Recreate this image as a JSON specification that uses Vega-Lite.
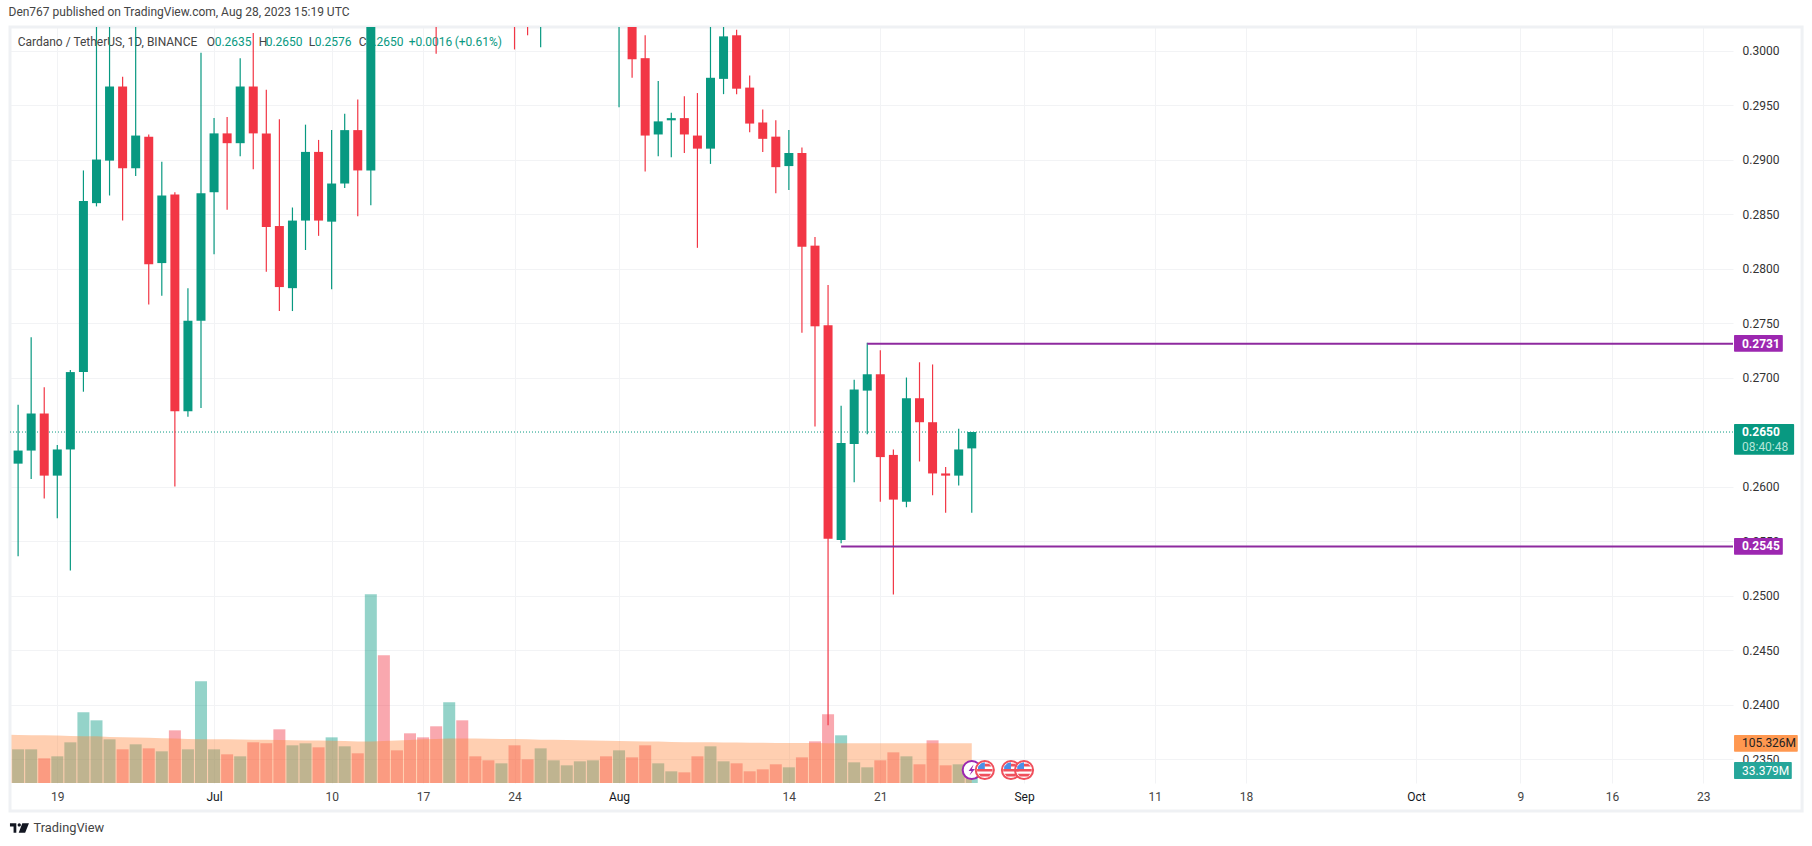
{
  "$schema": "https://vega.github.io/schema/vega-lite/v6.json",
  "autosize": {"type": "none"},
  "padding": {"left": 10, "top": 27, "right": 79, "bottom": 63},
  "width": 1723,
  "height": 756,
  "background": "#ffffff",
  "title": {"text": "Den767 published on TradingView.com, Aug 28, 2023 15:19 UTC", "anchor": "start", "offset": 7, "font": "Roboto", "fontSize": 12, "fontWeight": "normal", "color": "#444444"},
  "config": {"view": {"stroke": null}},
  "datasets": {
    "candles": [
      {"date": "2023-06-15", "ma": 128, "note": "anchor"},
      {"date": "2023-06-16", "dir": "up", "open": 0.2621, "high": 0.2675, "low": 0.2536, "close": 0.2633, "volume": 89.4, "ma": 127.5},
      {"date": "2023-06-17", "dir": "up", "open": 0.2633, "high": 0.2737, "low": 0.2607, "close": 0.2667, "volume": 89.4, "ma": 127},
      {"date": "2023-06-18", "dir": "down", "open": 0.2667, "high": 0.2691, "low": 0.2589, "close": 0.2610, "volume": 65.5, "ma": 126.5},
      {"date": "2023-06-19", "dir": "up", "open": 0.2610, "high": 0.2638, "low": 0.2571, "close": 0.2634, "volume": 70.8, "ma": 126},
      {"date": "2023-06-20", "dir": "up", "open": 0.2634, "high": 0.2707, "low": 0.2523, "close": 0.2705, "volume": 108, "ma": 125},
      {"date": "2023-06-21", "dir": "up", "open": 0.2705, "high": 0.2890, "low": 0.2687, "close": 0.2862, "volume": 187.6, "ma": 124},
      {"date": "2023-06-22", "dir": "up", "open": 0.2860, "high": 0.3040, "low": 0.2857, "close": 0.2900, "volume": 166.4, "ma": 124},
      {"date": "2023-06-23", "dir": "up", "open": 0.2899, "high": 0.3060, "low": 0.2867, "close": 0.2967, "volume": 115.9, "ma": 122},
      {"date": "2023-06-24", "dir": "down", "open": 0.2967, "high": 0.2976, "low": 0.2844, "close": 0.2892, "volume": 89.4, "ma": 121.5},
      {"date": "2023-06-25", "dir": "up", "open": 0.2892, "high": 0.3030, "low": 0.2885, "close": 0.2922, "volume": 102.7, "ma": 121},
      {"date": "2023-06-26", "dir": "down", "open": 0.2921, "high": 0.2923, "low": 0.2767, "close": 0.2804, "volume": 92, "ma": 120},
      {"date": "2023-06-27", "dir": "up", "open": 0.2805, "high": 0.2898, "low": 0.2775, "close": 0.2867, "volume": 84.1, "ma": 119},
      {"date": "2023-06-28", "dir": "down", "open": 0.2868, "high": 0.2870, "low": 0.2600, "close": 0.2669, "volume": 139.8, "ma": 118},
      {"date": "2023-06-29", "dir": "up", "open": 0.2669, "high": 0.2782, "low": 0.2664, "close": 0.2752, "volume": 89.4, "ma": 117},
      {"date": "2023-06-30", "dir": "up", "open": 0.2752, "high": 0.2998, "low": 0.2672, "close": 0.2869, "volume": 270, "ma": 116},
      {"date": "2023-07-01", "dir": "up", "open": 0.2870, "high": 0.2938, "low": 0.2813, "close": 0.2924, "volume": 89.4, "ma": 116},
      {"date": "2023-07-02", "dir": "down", "open": 0.2924, "high": 0.2939, "low": 0.2854, "close": 0.2915, "volume": 76.1, "ma": 116},
      {"date": "2023-07-03", "dir": "up", "open": 0.2915, "high": 0.2993, "low": 0.2903, "close": 0.2967, "volume": 70.8, "ma": 115.5},
      {"date": "2023-07-04", "dir": "down", "open": 0.2967, "high": 0.3016, "low": 0.2891, "close": 0.2924, "volume": 108, "ma": 115},
      {"date": "2023-07-05", "dir": "down", "open": 0.2924, "high": 0.2964, "low": 0.2797, "close": 0.2838, "volume": 105.3, "ma": 115},
      {"date": "2023-07-06", "dir": "down", "open": 0.2839, "high": 0.2937, "low": 0.2761, "close": 0.2783, "volume": 142.5, "ma": 114},
      {"date": "2023-07-07", "dir": "up", "open": 0.2782, "high": 0.2856, "low": 0.2761, "close": 0.2844, "volume": 100, "ma": 113.5},
      {"date": "2023-07-08", "dir": "up", "open": 0.2844, "high": 0.2932, "low": 0.2817, "close": 0.2907, "volume": 105.3, "ma": 113},
      {"date": "2023-07-09", "dir": "down", "open": 0.2907, "high": 0.2918, "low": 0.2830, "close": 0.2844, "volume": 94.7, "ma": 112.5},
      {"date": "2023-07-10", "dir": "up", "open": 0.2843, "high": 0.2927, "low": 0.2781, "close": 0.2878, "volume": 121.2, "ma": 112},
      {"date": "2023-07-11", "dir": "up", "open": 0.2878, "high": 0.2942, "low": 0.2874, "close": 0.2927, "volume": 97.4, "ma": 111.5},
      {"date": "2023-07-12", "dir": "down", "open": 0.2927, "high": 0.2955, "low": 0.2848, "close": 0.2890, "volume": 78.8, "ma": 110.5},
      {"date": "2023-07-13", "dir": "up", "open": 0.2890, "high": 0.3400, "low": 0.2858, "close": 0.3205, "volume": 500.9, "ma": 110.5},
      {"date": "2023-07-14", "dir": "down", "open": 0.3205, "high": 0.3420, "low": 0.3060, "close": 0.3110, "volume": 339, "ma": 111.5},
      {"date": "2023-07-15", "dir": "down", "open": 0.3110, "high": 0.3130, "low": 0.3040, "close": 0.3080, "volume": 86.7, "ma": 113},
      {"date": "2023-07-16", "dir": "down", "open": 0.3080, "high": 0.3110, "low": 0.3040, "close": 0.3060, "volume": 131.9, "ma": 114},
      {"date": "2023-07-17", "dir": "down", "open": 0.3060, "high": 0.3090, "low": 0.3030, "close": 0.3050, "volume": 121.2, "ma": 116},
      {"date": "2023-07-18", "dir": "down", "open": 0.3150, "high": 0.3180, "low": 0.2997, "close": 0.3060, "volume": 150.5, "ma": 117},
      {"date": "2023-07-19", "dir": "up", "open": 0.3060, "high": 0.3290, "low": 0.3050, "close": 0.3120, "volume": 214.2, "ma": 118},
      {"date": "2023-07-20", "dir": "down", "open": 0.3120, "high": 0.3220, "low": 0.3070, "close": 0.3115, "volume": 166.4, "ma": 118},
      {"date": "2023-07-21", "dir": "down", "open": 0.3130, "high": 0.3170, "low": 0.3090, "close": 0.3110, "volume": 70.8, "ma": 118},
      {"date": "2023-07-22", "dir": "down", "open": 0.3110, "high": 0.3130, "low": 0.3050, "close": 0.3080, "volume": 60.2, "ma": 117.5},
      {"date": "2023-07-23", "dir": "up", "open": 0.3075, "high": 0.3120, "low": 0.3050, "close": 0.3100, "volume": 52.2, "ma": 117},
      {"date": "2023-07-24", "dir": "down", "open": 0.3100, "high": 0.3110, "low": 0.3001, "close": 0.3040, "volume": 100, "ma": 117},
      {"date": "2023-07-25", "dir": "down", "open": 0.3045, "high": 0.3070, "low": 0.3014, "close": 0.3035, "volume": 62.8, "ma": 116},
      {"date": "2023-07-26", "dir": "up", "open": 0.3035, "high": 0.3100, "low": 0.3003, "close": 0.3090, "volume": 92, "ma": 115},
      {"date": "2023-07-27", "dir": "up", "open": 0.3090, "high": 0.3130, "low": 0.3040, "close": 0.3100, "volume": 60.2, "ma": 114.5},
      {"date": "2023-07-28", "dir": "up", "open": 0.3100, "high": 0.3120, "low": 0.3060, "close": 0.3110, "volume": 46.9, "ma": 114},
      {"date": "2023-07-29", "dir": "up", "open": 0.3110, "high": 0.3130, "low": 0.3080, "close": 0.3120, "volume": 57.5, "ma": 113.5},
      {"date": "2023-07-30", "dir": "up", "open": 0.3120, "high": 0.3170, "low": 0.3090, "close": 0.3160, "volume": 60.2, "ma": 113},
      {"date": "2023-07-31", "dir": "down", "open": 0.3160, "high": 0.3180, "low": 0.3080, "close": 0.3120, "volume": 70.8, "ma": 112},
      {"date": "2023-08-01", "dir": "up", "open": 0.3100, "high": 0.3200, "low": 0.2948, "close": 0.3150, "volume": 86.7, "ma": 111.5},
      {"date": "2023-08-02", "dir": "down", "open": 0.3150, "high": 0.3170, "low": 0.2975, "close": 0.2992, "volume": 68.1, "ma": 111},
      {"date": "2023-08-03", "dir": "down", "open": 0.2993, "high": 0.3014, "low": 0.2889, "close": 0.2922, "volume": 100, "ma": 110.5},
      {"date": "2023-08-04", "dir": "up", "open": 0.2923, "high": 0.2972, "low": 0.2903, "close": 0.2935, "volume": 52.2, "ma": 110},
      {"date": "2023-08-05", "dir": "up", "open": 0.2936, "high": 0.2943, "low": 0.2902, "close": 0.2938, "volume": 31, "ma": 109},
      {"date": "2023-08-06", "dir": "down", "open": 0.2938, "high": 0.2958, "low": 0.2906, "close": 0.2923, "volume": 28.3, "ma": 108},
      {"date": "2023-08-07", "dir": "down", "open": 0.2922, "high": 0.2961, "low": 0.2819, "close": 0.2910, "volume": 70.8, "ma": 108},
      {"date": "2023-08-08", "dir": "up", "open": 0.2910, "high": 0.3040, "low": 0.2896, "close": 0.2975, "volume": 97.4, "ma": 108},
      {"date": "2023-08-09", "dir": "up", "open": 0.2974, "high": 0.3060, "low": 0.2960, "close": 0.3013, "volume": 57.5, "ma": 107.5},
      {"date": "2023-08-10", "dir": "down", "open": 0.3014, "high": 0.3019, "low": 0.2960, "close": 0.2965, "volume": 52.2, "ma": 107.5},
      {"date": "2023-08-11", "dir": "down", "open": 0.2966, "high": 0.2977, "low": 0.2925, "close": 0.2933, "volume": 31, "ma": 107},
      {"date": "2023-08-12", "dir": "down", "open": 0.2934, "high": 0.2946, "low": 0.2907, "close": 0.2919, "volume": 36.3, "ma": 107},
      {"date": "2023-08-13", "dir": "down", "open": 0.2921, "high": 0.2936, "low": 0.2869, "close": 0.2893, "volume": 49.6, "ma": 106.5},
      {"date": "2023-08-14", "dir": "up", "open": 0.2894, "high": 0.2927, "low": 0.2872, "close": 0.2906, "volume": 41.6, "ma": 106.5},
      {"date": "2023-08-15", "dir": "down", "open": 0.2906, "high": 0.2911, "low": 0.2741, "close": 0.2820, "volume": 68.1, "ma": 106},
      {"date": "2023-08-16", "dir": "down", "open": 0.2821, "high": 0.2829, "low": 0.2655, "close": 0.2747, "volume": 110.6, "ma": 106},
      {"date": "2023-08-17", "dir": "down", "open": 0.2748, "high": 0.2785, "low": 0.2381, "close": 0.2552, "volume": 182.3, "ma": 105.5},
      {"date": "2023-08-18", "dir": "up", "open": 0.2551, "high": 0.2674, "low": 0.2548, "close": 0.2640, "volume": 126.6, "ma": 105.5},
      {"date": "2023-08-19", "dir": "up", "open": 0.2639, "high": 0.2698, "low": 0.2604, "close": 0.2689, "volume": 54.9, "ma": 105.5},
      {"date": "2023-08-20", "dir": "up", "open": 0.2688, "high": 0.2732, "low": 0.2648, "close": 0.2703, "volume": 41.6, "ma": 105.4},
      {"date": "2023-08-21", "dir": "down", "open": 0.2703, "high": 0.2725, "low": 0.2586, "close": 0.2627, "volume": 60.2, "ma": 105.4},
      {"date": "2023-08-22", "dir": "down", "open": 0.2629, "high": 0.2634, "low": 0.2501, "close": 0.2588, "volume": 81.4, "ma": 105.4},
      {"date": "2023-08-23", "dir": "up", "open": 0.2586, "high": 0.2700, "low": 0.2581, "close": 0.2681, "volume": 70.8, "ma": 105.4},
      {"date": "2023-08-24", "dir": "down", "open": 0.2681, "high": 0.2714, "low": 0.2623, "close": 0.2659, "volume": 49.6, "ma": 105.4},
      {"date": "2023-08-25", "dir": "down", "open": 0.2659, "high": 0.2712, "low": 0.2592, "close": 0.2612, "volume": 113.3, "ma": 105.4},
      {"date": "2023-08-26", "dir": "down", "open": 0.2612, "high": 0.2618, "low": 0.2576, "close": 0.2610, "volume": 46.9, "ma": 105.3},
      {"date": "2023-08-27", "dir": "up", "open": 0.2610, "high": 0.2653, "low": 0.2601, "close": 0.2634, "volume": 49.6, "ma": 105.3},
      {"date": "2023-08-28", "dir": "up", "open": 0.2635, "high": 0.2650, "low": 0.2576, "close": 0.2650, "volume": 33.379, "ma": 105.326, "event": "earnings"},
      {"date": "2023-08-29", "event": "flag"},
      {"date": "2023-08-31", "event": "flag"},
      {"date": "2023-09-01", "event": "flag"}
    ]
  },
  "data": {"name": "candles"},
  "encoding": {
    "x": {
      "field": "date",
      "type": "temporal",
      "title": null,
      "scale": {"type": "utc", "nice": false, "padding": 0, "domain": [{"year": 2023, "month": "jun", "date": 15, "hours": 9, "minutes": 7, "utc": true}, {"year": 2023, "month": "oct", "date": 25, "hours": 6, "minutes": 30, "utc": true}]},
      "axis": {
        "values": [
          {"year": 2023, "month": "jun", "date": 19, "utc": true},
          {"year": 2023, "month": "jul", "date": 1, "utc": true},
          {"year": 2023, "month": "jul", "date": 10, "utc": true},
          {"year": 2023, "month": "jul", "date": 17, "utc": true},
          {"year": 2023, "month": "jul", "date": 24, "utc": true},
          {"year": 2023, "month": "aug", "date": 1, "utc": true},
          {"year": 2023, "month": "aug", "date": 14, "utc": true},
          {"year": 2023, "month": "aug", "date": 21, "utc": true},
          {"year": 2023, "month": "sep", "date": 1, "utc": true},
          {"year": 2023, "month": "sep", "date": 11, "utc": true},
          {"year": 2023, "month": "sep", "date": 18, "utc": true},
          {"year": 2023, "month": "oct", "date": 1, "utc": true},
          {"year": 2023, "month": "oct", "date": 9, "utc": true},
          {"year": 2023, "month": "oct", "date": 16, "utc": true},
          {"year": 2023, "month": "oct", "date": 23, "utc": true}
        ],
        "labelExpr": "utcdate(datum.value) == 1 ? utcFormat(datum.value, '%b') : utcFormat(datum.value, '%-d')",
        "labelColor": {"condition": {"test": "utcdate(datum.value) == 1", "value": "#131722"}, "value": "#444444"},
        "labelFont": "Roboto",
        "labelFontSize": 12,
        "labelPadding": 8,
        "labelFlush": false,
        "labelOverlap": false,
        "domain": false,
        "ticks": false,
        "grid": true,
        "gridColor": "#f2f3f5",
        "gridWidth": 1
      }
    }
  },
  "layer": [
    {
      "encoding": {"y": {"field": "volume", "type": "quantitative", "title": null, "axis": null, "stack": null, "scale": {"domain": [0, 2007], "nice": false}}},
      "layer": [
        {
          "transform": [{"filter": "datum.volume != null"}],
          "mark": {"type": "bar", "size": 12, "opacity": 0.43, "clip": true},
          "encoding": {"color": {"field": "dir", "type": "nominal", "legend": null, "scale": {"domain": ["up", "down"], "range": ["#089981", "#F23645"]}}}
        },
        {
          "transform": [{"filter": "datum.ma != null"}],
          "mark": {"type": "area", "color": "#FF873C", "opacity": 0.4, "clip": true, "interpolate": "linear"},
          "encoding": {"y": {"field": "ma", "type": "quantitative"}}
        }
      ]
    },
    {
      "layer": [
        {
          "transform": [{"filter": "datum.note == 'anchor'"}],
          "layer": [
            {
              "mark": {"type": "rect", "fill": "transparent", "stroke": "#eff1f4", "strokeWidth": 3},
              "encoding": {
                "x": {"datum": {"year": 2023, "month": "jun", "date": 15, "hours": 9, "minutes": 7, "utc": true}, "type": "temporal"},
                "x2": {"datum": {"year": 2023, "month": "oct", "date": 30, "hours": 13, "minutes": 26, "utc": true}},
                "y": {"datum": 0.30216},
                "y2": {"datum": 0.23023}
              }
            },
            {
              "mark": {"type": "rule", "color": "#089981", "strokeWidth": 1, "strokeDash": [1, 2]},
              "encoding": {"x": null, "y": {"datum": 0.265}}
            },
            {
              "encoding": {"x": {"datum": {"year": 2023, "month": "jun", "date": 15, "hours": 23, "minutes": 10, "utc": true}, "type": "temporal"}, "y": {"datum": 0.3008}},
              "layer": [
                {"mark": {"type": "text", "align": "left", "font": "Roboto", "fontSize": 12, "color": "#444444", "text": "Cardano / TetherUS, 1D, BINANCE"}},
                {"mark": {"type": "text", "align": "left", "dx": 189, "font": "Roboto", "fontSize": 12, "color": "#444444", "text": "O"}},
                {"mark": {"type": "text", "align": "left", "dx": 197, "font": "Roboto", "fontSize": 12, "color": "#089981", "text": "0.2635"}},
                {"mark": {"type": "text", "align": "left", "dx": 241, "font": "Roboto", "fontSize": 12, "color": "#444444", "text": "H"}},
                {"mark": {"type": "text", "align": "left", "dx": 248, "font": "Roboto", "fontSize": 12, "color": "#089981", "text": "0.2650"}},
                {"mark": {"type": "text", "align": "left", "dx": 291, "font": "Roboto", "fontSize": 12, "color": "#444444", "text": "L"}},
                {"mark": {"type": "text", "align": "left", "dx": 297, "font": "Roboto", "fontSize": 12, "color": "#089981", "text": "0.2576"}},
                {"mark": {"type": "text", "align": "left", "dx": 341, "font": "Roboto", "fontSize": 12, "color": "#444444", "text": "C"}},
                {"mark": {"type": "text", "align": "left", "dx": 349, "font": "Roboto", "fontSize": 12, "color": "#089981", "text": "0.2650"}},
                {"mark": {"type": "text", "align": "left", "dx": 391, "font": "Roboto", "fontSize": 12, "color": "#089981", "text": "+0.0016"}},
                {"mark": {"type": "text", "align": "left", "dx": 437, "font": "Roboto", "fontSize": 12, "color": "#089981", "text": "(+0.61%)"}}
              ]
            }
          ]
        },
        {
          "transform": [{"filter": "datum.volume != null"}],
          "mark": {"type": "rule", "strokeWidth": 1.2, "clip": true},
          "encoding": {
            "y": {
              "field": "low",
              "type": "quantitative",
              "title": null,
              "scale": {"domain": [0.2328, 0.30216], "zero": false, "nice": false},
              "axis": {
                "orient": "right",
                "values": [0.235, 0.24, 0.245, 0.25, 0.255, 0.26, 0.27, 0.275, 0.28, 0.285, 0.29, 0.295, 0.3],
                "format": ".4f",
                "labelFont": "Roboto",
                "labelFontSize": 12,
                "labelColor": "#333333",
                "labelPadding": 9,
                "labelOverlap": false,
                "labelFlush": false,
                "domain": false,
                "ticks": false,
                "grid": true,
                "gridColor": "#f2f3f5",
                "gridWidth": 1
              }
            },
            "y2": {"field": "high"},
            "color": {"field": "dir", "type": "nominal", "legend": null}
          }
        },
        {
          "transform": [{"filter": "datum.volume != null"}],
          "mark": {"type": "bar", "size": 9, "clip": true},
          "encoding": {
            "y": {"field": "open", "type": "quantitative"},
            "y2": {"field": "close"},
            "color": {"field": "dir", "type": "nominal", "legend": null}
          }
        },
        {
          "transform": [{"filter": "datum.note == 'anchor'"}],
          "layer": [
            {
              "mark": {"type": "rule", "color": "#8E2A9F", "strokeWidth": 2},
              "encoding": {"x": {"datum": {"year": 2023, "month": "aug", "date": 20, "utc": true}, "type": "temporal"}, "x2": {"datum": {"year": 2023, "month": "oct", "date": 25, "hours": 6, "minutes": 30, "utc": true}}, "y": {"datum": 0.2731}}
            },
            {
              "mark": {"type": "rule", "color": "#8E2A9F", "strokeWidth": 2},
              "encoding": {"x": {"datum": {"year": 2023, "month": "aug", "date": 18, "utc": true}, "type": "temporal"}, "x2": {"datum": {"year": 2023, "month": "oct", "date": 25, "hours": 6, "minutes": 30, "utc": true}}, "y": {"datum": 0.2545}}
            },
            {
              "mark": {"type": "rect", "color": "#9C27B0", "cornerRadius": 1},
              "encoding": {"x": {"datum": {"year": 2023, "month": "oct", "date": 25, "hours": 8, "minutes": 24, "utc": true}, "type": "temporal"}, "x2": {"datum": {"year": 2023, "month": "oct", "date": 29, "hours": 2, "utc": true}}, "y": {"datum": 0.2739}, "y2": {"datum": 0.27237}}
            },
            {
              "mark": {"type": "rect", "color": "#089981", "cornerRadius": 1},
              "encoding": {"x": {"datum": {"year": 2023, "month": "oct", "date": 25, "hours": 8, "minutes": 24, "utc": true}, "type": "temporal"}, "x2": {"datum": {"year": 2023, "month": "oct", "date": 29, "hours": 22, "minutes": 48, "utc": true}}, "y": {"datum": 0.26573}, "y2": {"datum": 0.26292}}
            },
            {
              "mark": {"type": "rect", "color": "#9C27B0", "cornerRadius": 1},
              "encoding": {"x": {"datum": {"year": 2023, "month": "oct", "date": 25, "hours": 8, "minutes": 24, "utc": true}, "type": "temporal"}, "x2": {"datum": {"year": 2023, "month": "oct", "date": 29, "hours": 2, "utc": true}}, "y": {"datum": 0.25528}, "y2": {"datum": 0.25374}}
            },
            {
              "mark": {"type": "rect", "color": "#FF9850", "cornerRadius": 1},
              "encoding": {"x": {"datum": {"year": 2023, "month": "oct", "date": 25, "hours": 8, "minutes": 24, "utc": true}, "type": "temporal"}, "x2": {"datum": {"year": 2023, "month": "oct", "date": 30, "hours": 5, "minutes": 30, "utc": true}}, "y": {"datum": 0.2372}, "y2": {"datum": 0.23567}}
            },
            {
              "mark": {"type": "rect", "color": "#26A69A", "cornerRadius": 1},
              "encoding": {"x": {"datum": {"year": 2023, "month": "oct", "date": 25, "hours": 8, "minutes": 24, "utc": true}, "type": "temporal"}, "x2": {"datum": {"year": 2023, "month": "oct", "date": 29, "hours": 18, "minutes": 30, "utc": true}}, "y": {"datum": 0.23473}, "y2": {"datum": 0.23317}}
            },
            {
              "encoding": {"x": {"datum": {"year": 2023, "month": "oct", "date": 25, "hours": 23, "utc": true}, "type": "temporal"}},
              "layer": [
                {"mark": {"type": "text", "align": "left", "font": "Roboto", "fontSize": 12, "fontWeight": "bold", "color": "#ffffff", "text": "0.2731"}, "encoding": {"y": {"datum": 0.2731}}},
                {"mark": {"type": "text", "align": "left", "font": "Roboto", "fontSize": 12, "fontWeight": "bold", "color": "#ffffff", "text": "0.2650"}, "encoding": {"y": {"datum": 0.265}}},
                {"mark": {"type": "text", "align": "left", "font": "Roboto", "fontSize": 12, "color": "#b5e6d9", "text": "08:40:48"}, "encoding": {"y": {"datum": 0.26365}}},
                {"mark": {"type": "text", "align": "left", "font": "Roboto", "fontSize": 12, "fontWeight": "bold", "color": "#ffffff", "text": "0.2545"}, "encoding": {"y": {"datum": 0.2545}}},
                {"mark": {"type": "text", "align": "left", "font": "Roboto", "fontSize": 12, "color": "#222222", "text": "105.326M"}, "encoding": {"y": {"datum": 0.23644}}},
                {"mark": {"type": "text", "align": "left", "font": "Roboto", "fontSize": 12, "color": "#ffffff", "text": "33.379M"}, "encoding": {"y": {"datum": 0.23393}}}
              ]
            },
            {
              "mark": {"type": "point", "shape": "M-1,-0.5 L-0.33,-0.5 L-0.33,0.5 L-0.62,0.5 L-0.62,-0.16 L-1,-0.16 Z M0.3,-0.5 L1,-0.5 L0.6,0.5 L-0.08,0.5 Z M-0.02,-0.5 A0.17,0.17 0 1 1 -0.02,-0.16 A0.17,0.17 0 1 1 -0.02,-0.5 Z", "size": 361, "filled": true, "color": "#131722", "opacity": 1},
              "encoding": {"x": {"datum": {"year": 2023, "month": "jun", "date": 16, "hours": 2, "minutes": 30, "utc": true}, "type": "temporal"}, "y": {"datum": 0.22867}}
            },
            {
              "mark": {"type": "text", "align": "left", "font": "Roboto", "fontSize": 12.8, "color": "#444444", "text": "TradingView"},
              "encoding": {"x": {"datum": {"year": 2023, "month": "jun", "date": 17, "hours": 4, "minutes": 30, "utc": true}, "type": "temporal"}, "y": {"datum": 0.22867}}
            }
          ]
        },
        {
          "transform": [{"filter": "datum.event != null"}],
          "encoding": {"y": {"datum": 0.23399}},
          "layer": [
            {
              "mark": {"type": "point", "shape": "circle", "size": 330, "filled": true, "fill": "#ffffff", "strokeWidth": 2, "opacity": 1},
              "encoding": {"stroke": {"field": "event", "type": "nominal", "legend": null, "scale": {"domain": ["earnings", "flag"], "range": ["#9C27B0", "#F0505C"]}}}
            },
            {
              "transform": [{"filter": "datum.event == 'flag'"}],
              "mark": {"type": "point", "shape": "M-0.85,-0.1 L0.85,-0.1 L0.85,0.15 L-0.85,0.15 Z M-0.7,0.4 L0.7,0.4 L0.45,0.7 L-0.45,0.7 Z M-0.05,-0.7 L0.45,-0.7 L0.75,-0.4 L-0.05,-0.4 Z", "size": 330, "filled": true, "color": "#F0505C", "opacity": 1}
            },
            {
              "transform": [{"filter": "datum.event == 'flag'"}],
              "mark": {"type": "point", "shape": "M-0.75,-0.1 L-0.75,-0.4 L-0.4,-0.75 L0,-0.85 L0,-0.1 Z", "size": 330, "filled": true, "color": "#4C8FE8", "opacity": 1}
            },
            {
              "transform": [{"filter": "datum.event == 'earnings'"}],
              "mark": {"type": "point", "shape": "M0.2,-0.6 L-0.35,0.1 L-0.02,0.1 L-0.25,0.6 L0.35,-0.1 L0.02,-0.1 Z", "size": 330, "filled": true, "color": "#9C27B0", "opacity": 1}
            }
          ]
        }
      ]
    }
  ],
  "resolve": {"scale": {"y": "independent"}}
}
